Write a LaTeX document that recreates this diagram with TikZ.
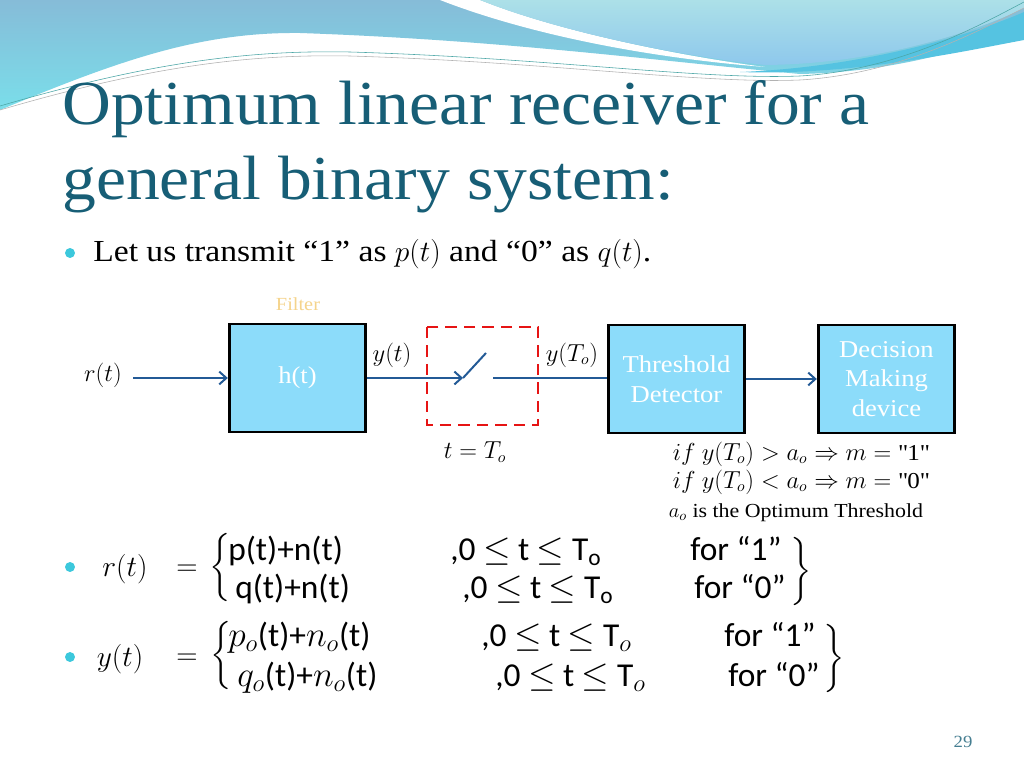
\documentclass[tikz,border=0pt]{standalone}
\usepackage{amsmath}
\usepackage{amssymb}
\usepackage{fontspec}
\setmainfont{Liberation Serif}[FakeStretch=1.1]
\newfontfamily\calfont{Carlito}
\newfontfamily\ttlfont{Liberation Serif}[FakeStretch=1.08]
\usetikzlibrary{arrows.meta,positioning}
\definecolor{titleteal}{RGB}{23,94,118}
\definecolor{bulletcyan}{RGB}{60,200,220}
\definecolor{boxblue}{RGB}{140,220,250}
\definecolor{wireblue}{RGB}{35,90,150}
\definecolor{filtertan}{RGB}{245,212,140}
\definecolor{topblue}{RGB}{134,188,216}
\definecolor{midcyan}{RGB}{122,222,234}
\definecolor{paleblue}{RGB}{172,224,232}
\definecolor{skyband}{RGB}{142,200,236}
\definecolor{bandcyan}{RGB}{85,195,225}
\definecolor{swred}{RGB}{230,20,20}
\begin{document}
\begin{tikzpicture}[x=0.703125pt,y=-0.703125pt,
  blk/.style={draw=black,line width=2pt,fill=boxblue,minimum width=96pt,minimum height=76pt,text=white,align=center,font=\fontsize{17}{21}\selectfont},
  wire/.style={wireblue,line width=1.4pt},
  arr/.style={wire,-{Straight Barb[length=5pt,width=9pt]}},
  lbl/.style={font=\fontsize{16}{19}\selectfont,inner sep=1pt},
  dot/.style={circle,fill=bulletcyan,inner sep=0pt,minimum size=7pt},
  eqtxt/.style={anchor=base west,font=\calfont\fontsize{23.5}{27}\selectfont,inner sep=0pt},
  ttl/.style={anchor=base west,text=titleteal,font=\ttlfont\fontsize{44}{53}\selectfont,inner sep=0pt}]
\newcommand{\ymid}{378}
\newcommand{\qd}{\textquotedbl}
\useasboundingbox (0,0) rectangle (1024,768);
\fill[white] (0,0) rectangle (1024,768);
% top swoosh
\shade[top color=topblue,bottom color=midcyan] (0,0) -- (0,110) .. controls (120,60) and (200,32) .. (300,33) .. controls (500,40) and (650,60) .. (800,74) .. controls (900,72) and (980,45) .. (1024,28) -- (1024,0) -- cycle;
\fill[white] (440,0) .. controls (530,35) and (650,58) .. (765,67) .. controls (680,56) and (560,32) .. (480,0) -- cycle;
\fill[bandcyan] (740,72) .. controls (850,76) and (960,52) .. (1024,40) -- (1024,12) .. controls (960,40) and (850,68) .. (740,72) -- cycle;
\shade[top color=paleblue,bottom color=skyband] (480,0) .. controls (560,32) and (680,56) .. (765,65) .. controls (880,64) and (980,30) .. (1024,8) -- (1024,0) -- cycle;
\draw[teal!70,line width=0.4pt] (0,106) .. controls (150,62) and (250,50) .. (350,52) .. controls (550,58) and (700,80) .. (800,76) .. controls (900,70) and (980,25) .. (1024,2);
\draw[gray!60,line width=0.4pt] (0,110) .. controls (150,66) and (250,54) .. (350,56) .. controls (550,62) and (700,84) .. (800,80) .. controls (900,74) and (980,30) .. (1024,8);
% title and intro
\node[ttl] (ttl1) at (62,125) {Optimum linear receiver for a};
\node[ttl] (ttl2) at (62,200) {general binary system:};
\node[dot] (b0) at (70,253) {};
\node[anchor=base west,inner sep=0pt,font=\fontsize{21.5}{25}\selectfont] (intro) at (93,262) {Let us transmit “1” as $p(t)$ and “0” as $q(t)$.};
% block diagram
\node[blk] (filt) at (297.5,\ymid) {h(t)};
\node[text=filtertan,font=\fontsize{13}{15}\selectfont] (filtlbl) at (298,304) {Filter};
\node[blk] (thr) at (676.5,379) {Threshold\\Detector};
\node[blk] (dec) at (886.5,379) {Decision\\Making\\device};
\coordinate (rin) at (133,\ymid);
\coordinate (sw1) at (463,\ymid);
\coordinate (sw2) at (486,353);
\coordinate (sw3) at (493,\ymid);
\node[lbl] (rlbl) at (103,375) {$r(t)$};
\node[lbl] (ylbl) at (392,355) {$y(t)$};
\node[lbl] (yTlbl) at (572,355) {$y(T_o)$};
\node[lbl] (tlbl) at (475,452) {$t=T_o$};
\draw[arr] (rin) -- (filt.west);
\draw[arr] (filt.east |- sw1) -- (sw1);
\draw[wire] (sw1) -- (sw2);
\draw[wire] (sw3) -- (thr.west |- sw3);
\draw[arr] (thr.east) -- (dec.west);
\draw[swred,line width=2pt,dash pattern=on 8pt off 5pt] (427,327) rectangle (538,425);
\node[lbl,inner sep=0pt] (rule1) at (801,454) {$if\ y(T_o) > a_o \Rightarrow m = \mbox{\qd1\qd}$};
\node[lbl,inner sep=0pt] (rule2) at (801,482) {$if\ y(T_o) < a_o \Rightarrow m = \mbox{\qd0\qd}$};
\node[font=\fontsize{14}{16}\selectfont,inner sep=0pt] (rule3) at (796,513) {$a_o$ is the Optimum Threshold};
% equations
\node[dot] (b1) at (70,567) {};
\node[font=\fontsize{20}{24}\selectfont] (req) at (125,569) {$r(t)$};
\node[font=\fontsize{20}{24}\selectfont] (reqs) at (187,570) {$=$};
\node[font=\fontsize{20}{24}\selectfont,inner sep=0pt] (rbl) at (221,569) {$\left\{\vrule height 21pt depth 21pt width 0pt\right.$};
\node[font=\fontsize{20}{24}\selectfont,inner sep=0pt] (rbr) at (800,572) {$\left.\vrule height 20pt depth 20pt width 0pt\right\}$};
\node[eqtxt] (r1a) at (228,560) {p(t)+n(t)};
\node[eqtxt] (r1b) at (450,560) {,0 $\le$ t $\le$ T$_{\text{o}}$};
\node[eqtxt] (r1c) at (690,560) {for “1”};
\node[eqtxt] (r2a) at (235,598) {q(t)+n(t)};
\node[eqtxt] (r2b) at (462,598) {,0 $\le$ t $\le$ T$_{\text{o}}$};
\node[eqtxt] (r2c) at (694,598) {for “0”};
\node[dot] (b2) at (70,657) {};
\node[font=\fontsize{20}{24}\selectfont] (yeq) at (120,659) {$y(t)$};
\node[font=\fontsize{20}{24}\selectfont] (yeqs) at (187,659) {$=$};
\node[font=\fontsize{20}{24}\selectfont,inner sep=0pt] (ybl) at (222,657) {$\left\{\vrule height 21pt depth 21pt width 0pt\right.$};
\node[font=\fontsize{20}{24}\selectfont,inner sep=0pt] (ybr) at (833,659) {$\left.\vrule height 20pt depth 20pt width 0pt\right\}$};
\node[eqtxt] (y1a) at (228,646) {$p_o$(t)+$n_o$(t)};
\node[eqtxt] (y1b) at (481,646) {,0 $\le$ t $\le$ T$_o$};
\node[eqtxt] (y1c) at (724,646) {for “1”};
\node[eqtxt] (y2a) at (237,686) {$q_o$(t)+$n_o$(t)};
\node[eqtxt] (y2b) at (495,686) {,0 $\le$ t $\le$ T$_o$};
\node[eqtxt] (y2c) at (728,686) {for “0”};
\node[text=titleteal!80,font=\fontsize{12}{14}\selectfont] (pg) at (963,742) {29};
\end{tikzpicture}
\end{document}
